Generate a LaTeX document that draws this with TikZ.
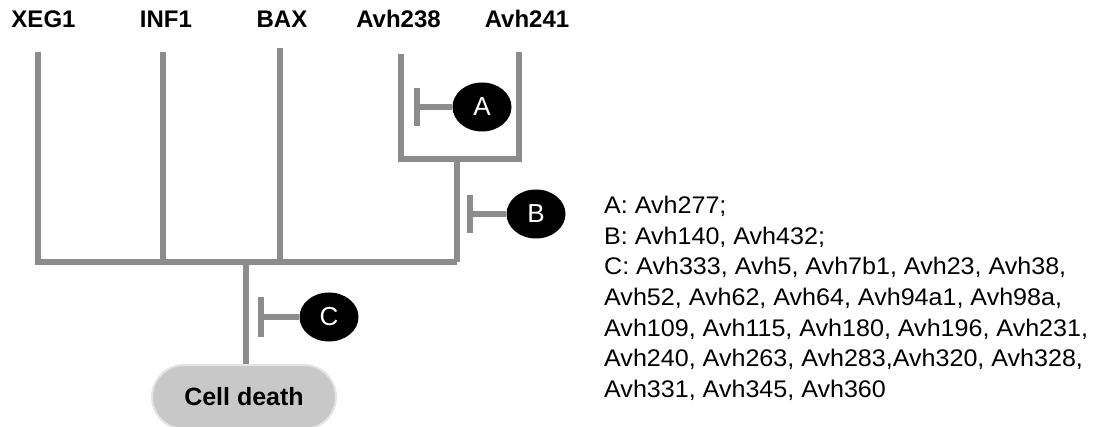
\documentclass[tikz,border=0pt]{standalone}
\usepackage{fontspec}
\setmainfont{Liberation Sans}
\newfontfamily\txtfont[FakeStretch=1.045]{Liberation Sans}
\usetikzlibrary{shapes.geometric}
\definecolor{linegray}{RGB}{140,140,140}
\definecolor{pillgray}{RGB}{200,200,200}
\definecolor{pilledge}{RGB}{228,228,228}
\begin{document}
\begin{tikzpicture}[x=1pt,y=-1pt,
  wire/.style={draw=linegray,line width=6pt,line join=miter},
  lbl/.style={font=\bfseries\fontsize{24}{24}\selectfont,anchor=base,inner sep=0pt},
  blob/.style={ellipse,fill=black,text=white,minimum width=59pt,minimum height=49pt,inner sep=0pt,font=\fontsize{26}{26}\selectfont},
  info/.style={font=\txtfont\fontsize{24}{24}\selectfont,anchor=base west,inner sep=0pt},
  pill/.style={rectangle,rounded corners=32pt,fill=pillgray,draw=pilledge,line width=2pt,minimum width=184pt,minimum height=64pt,font=\bfseries\fontsize{25}{25}\selectfont}]
\useasboundingbox (0,0) rectangle (1102,427);

% top labels
\node[lbl] (xeg) at (43.5,28) {XEG1};
\node[lbl] (inf) at (166,28) {INF1};
\node[lbl] (bax) at (282,28) {BAX};
\node[lbl] (a238) at (398.5,28) {Avh238};
\node[lbl] (a241) at (527,28) {Avh241};

% line tops and junctions
\coordinate (t1) at (38,52);
\coordinate (t2) at (163,52);
\coordinate (t3) at (280,48);
\coordinate (t4) at (401,54);
\coordinate (t5) at (519,52);
\coordinate (b1) at (457,159);
\coordinate (b2) at (457,262);
\coordinate (s)  at (246,262);

% cell death
\node[pill] (death) at (244,397) {Cell death};

% tree
\draw[wire] (t4) |- (b1) -| (t5);
\draw[wire] (b1) -- (b2);
\draw[wire] (t1) |- (b2);
\draw[wire] (t2) -- (t2 |- b2);
\draw[wire] (t3) -- (t3 |- b2);
\draw[wire] (s) -- (death.north -| s);

% inhibitors
\node[blob] (A) at (482,107) {A};
\node[blob] (B) at (536,214) {B};
\node[blob] (C) at (329,317) {C};
\coordinate (ba) at (417,107);
\coordinate (bb) at (470,214);
\coordinate (bc) at (261,317);
\draw[wire] (A.west) -- (ba);
\draw[wire] ([yshift=19pt]ba) -- ([yshift=-19pt]ba);
\draw[wire] (B.west) -- (bb);
\draw[wire] ([yshift=19pt]bb) -- ([yshift=-19pt]bb);
\draw[wire] (C.west) -- (bc);
\draw[wire] ([yshift=20pt]bc) -- ([yshift=-20pt]bc);

% legend
\node[info] (l1) at (604,214) {A: Avh277;};
\node[info] (l2) at (604,244.5) {B: Avh140, Avh432;};
\node[info] (l3) at (604,275) {C: Avh333, Avh5, Avh7b1, Avh23, Avh38,};
\node[info] (l4) at (604,305.5) {Avh52, Avh62, Avh64, Avh94a1, Avh98a,};
\node[info] (l5) at (604,336) {Avh109, Avh115, Avh180, Avh196, Avh231,};
\node[info] (l6) at (604,366.5) {Avh240, Avh263, Avh283,Avh320, Avh328,};
\node[info] (l7) at (604,397) {Avh331, Avh345, Avh360};
\end{tikzpicture}
\end{document}
